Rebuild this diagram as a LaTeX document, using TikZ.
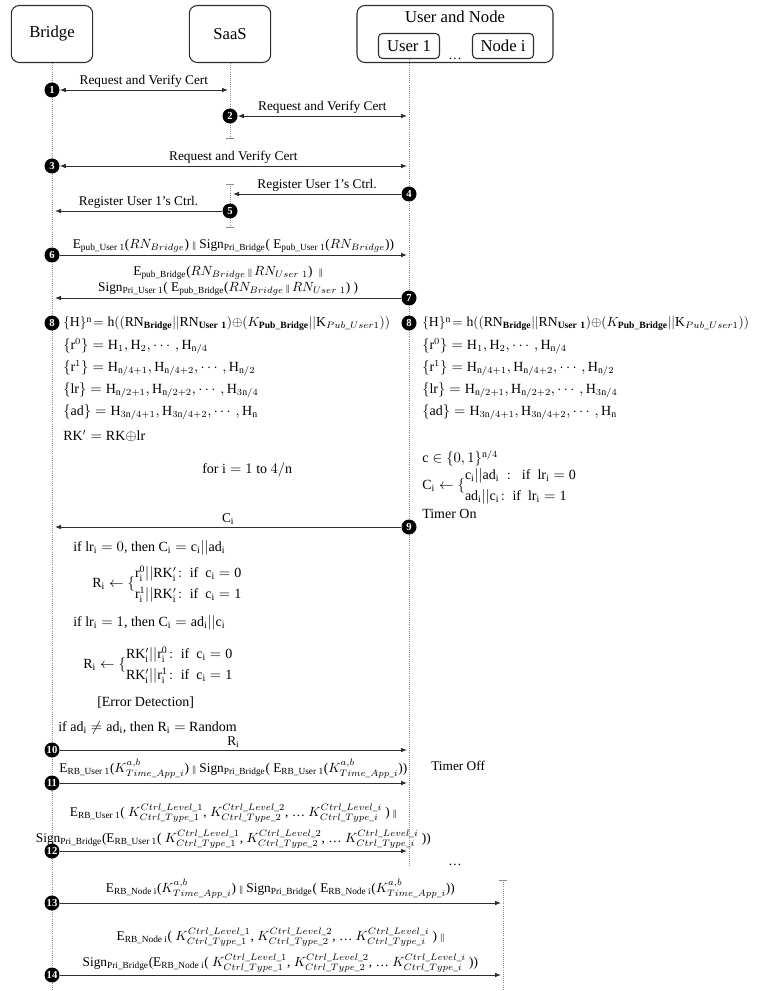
\documentclass[tikz,border=0pt]{standalone}
\usepackage{amsmath,amssymb}
\usepackage{fontspec}
\setmainfont{Liberation Serif}
\usetikzlibrary{arrows.meta}
\definecolor{ink}{RGB}{45,45,45}
\definecolor{lifeg}{RGB}{140,140,140}
\tikzset{
  actor/.style={draw=ink,line width=0.8pt,rounded corners=6pt,minimum height=42.75pt,
    font=\fontsize{12.5}{14}\selectfont},
  inbox/.style={draw=ink,line width=0.8pt,rounded corners=3pt,minimum width=45.75pt,
    minimum height=18.75pt,inner sep=1pt,font=\fontsize{12.5}{14}\selectfont},
  life/.style={lifeg,densely dotted,line width=0.6pt},
  lifebar/.style={lifeg,line width=0.6pt},
  num/.style={circle,fill=black,text=white,inner sep=0pt,minimum size=11.25pt,
    font=\fontsize{8}{8}\selectfont\bfseries},
  msg/.style={draw=ink,line width=0.7pt,-{Latex[length=4.5pt,width=3.5pt]}},
  twoway/.style={msg,{Latex[length=4.5pt,width=3.5pt]}-{Latex[length=4.5pt,width=3.5pt]}},
  lbl/.style={inner sep=1.5pt,font=\fontsize{10}{12}\selectfont},
  eq/.style={anchor=west,inner sep=0pt,font=\fontsize{10.5}{12}\selectfont},
  hash/.style={eq,font=\fontsize{10.3}{12}\selectfont},
}
\newcommand{\tsub}[1]{\textsubscript{#1}}
\newcommand{\pipes}{{\scriptsize ||}}
\newcommand{\kc}[1]{K^{Ctrl\_Level\_#1}_{Ctrl\_Type\_#1}}
\newcommand{\kt}{K^{a,b}_{Time\_App\_i}}
\newcommand{\xo}{{\oplus}}

\begin{document}
\begin{tikzpicture}[x=0.75pt,y=-0.75pt]
  \useasboundingbox (0,0) rectangle (757,991);

  % actors
  \node[actor,minimum width=61pt] (bridge) at (52,34) {Bridge};
  \node[actor,minimum width=61pt] (saas) at (230,34) {SaaS};
  \node[actor,minimum width=147pt] (usrnode) at (455,34) {};
  \node[inner sep=0pt,font=\fontsize{12.5}{14}\selectfont] (usrtitle) at (455,17) {User and Node};
  \node[inbox] (user1) at (409,46) {User 1};
  \node[inbox] (nodei) at (503,46) {Node i};
  \node[inner sep=0pt] (dotsA) at (455,59) {\ldots};

  % lifelines
  \coordinate (bEnd) at (52,991);
  \coordinate (sEnd) at (230,138);
  \coordinate (sTop) at (230,184);
  \coordinate (sBot) at (230,227);
  \coordinate (uEnd) at (409,866);
  \coordinate (nTop) at (503,880);
  \coordinate (nEnd) at (503,991);
  \draw[life] (bridge) -- (bEnd);
  \draw[life] (saas) -- (sEnd);
  \draw[life] (user1) -- (uEnd);
  \draw[life] (sTop) -- (sBot);
  \draw[life] (nTop) -- (nEnd);
  \draw[lifebar] ([xshift=-3pt]sEnd) -- ([xshift=3pt]sEnd);
  \draw[lifebar] ([xshift=-3pt]sTop) -- ([xshift=3pt]sTop);
  \draw[lifebar] ([xshift=-3pt]sBot) -- ([xshift=3pt]sBot);
  \draw[lifebar] ([xshift=-3pt]nTop) -- ([xshift=3pt]nTop);

  % 1-5 certificates and registration
  \node[num] (n1) at (52,90) {1};
  \coordinate (s1) at (228,90);
  \draw[twoway] (n1) -- node[lbl,above]{Request and Verify Cert} (s1);
  \node[num] (n2) at (230,116) {2};
  \coordinate (u2) at (407,116);
  \draw[twoway] (n2) -- node[lbl,above]{Request and Verify Cert} (u2);
  \node[num] (n3) at (52,166) {3};
  \coordinate (u3) at (407,166);
  \draw[twoway] (n3) -- node[lbl,above]{Request and Verify Cert} (u3);
  \node[num] (n4) at (409,194) {4};
  \coordinate (s4) at (233,194);
  \draw[msg] (n4) -- node[lbl,above]{Register User 1's Ctrl.} (s4);
  \node[num] (n5) at (230,211) {5};
  \coordinate (b5) at (55,211);
  \draw[msg] (n5) -- node[lbl,above]{Register User 1's Ctrl.} (b5);

  % 6-7 random numbers
  \node[num] (n6) at (52,255) {6};
  \coordinate (u6) at (407,255);
  \draw[msg] (n6) -- node[lbl,above]{E\tsub{pub\_User 1}($RN_{Bridge}$) \pipes\ Sign\tsub{Pri\_Bridge}( E\tsub{pub\_User 1}($RN_{Bridge}$))} (u6);
  \node[num] (n7) at (409,298) {7};
  \coordinate (b7) at (55,298);
  \draw[msg] (n7) -- node[lbl,above,align=center]{E\tsub{pub\_Bridge}($RN_{Bridge}$\,\pipes\,$RN_{User\ 1}$)\ \ \pipes\\
    Sign\tsub{Pri\_User 1}( E\tsub{pub\_Bridge}($RN_{Bridge}$\,\pipes\,$RN_{User\ 1}$) )} (b7);

  % 8 key material
  \node[num] (n8a) at (52,323) {8};
  \node[num] (n8b) at (409,323) {8};
  \node[hash] (hA) at (63,324) {$\{\mathrm{H}\}^{\mathrm{n}}\!= \mathrm{h}((\mathrm{RN}_{\mathbf{Bridge}}||\mathrm{RN}_{\mathbf{User\ 1}})\xo(K_{\mathbf{Pub\_Bridge}}||\mathrm{K}_{Pub\_User1}))$};
  \node[eq] (rzA) at (63,346) {$\{\mathrm{r}^0\} = \mathrm{H}_1, \mathrm{H}_2, \cdots, \mathrm{H}_{\mathrm{n}/4}$};
  \node[eq] (roA) at (63,368) {$\{\mathrm{r}^1\} = \mathrm{H}_{\mathrm{n}/4+1}, \mathrm{H}_{\mathrm{n}/4+2}, \cdots, \mathrm{H}_{\mathrm{n}/2}$};
  \node[eq] (lrA) at (63,390) {$\{\mathrm{lr}\} = \mathrm{H}_{\mathrm{n}/2+1}, \mathrm{H}_{\mathrm{n}/2+2}, \cdots, \mathrm{H}_{3\mathrm{n}/4}$};
  \node[eq] (adA) at (63,412) {$\{\mathrm{ad}\} = \mathrm{H}_{3\mathrm{n}/4+1}, \mathrm{H}_{3\mathrm{n}/4+2}, \cdots, \mathrm{H}_{\mathrm{n}}$};
  \node[eq] (rk) at (63,436) {$\mathrm{RK}' = \mathrm{RK}\xo\mathrm{lr}$};
  \node[eq] (fori) at (202,470) {for $\mathrm{i} = 1$ to $4/\mathrm{n}$};
  \node[hash] (hB) at (422,324) {$\{\mathrm{H}\}^{\mathrm{n}}\!= \mathrm{h}((\mathrm{RN}_{\mathbf{Bridge}}||\mathrm{RN}_{\mathbf{User\ 1}})\xo(K_{\mathbf{Pub\_Bridge}}||\mathrm{K}_{Pub\_User1}))$};
  \node[eq] (rzB) at (422,346) {$\{\mathrm{r}^0\} = \mathrm{H}_1, \mathrm{H}_2, \cdots, \mathrm{H}_{\mathrm{n}/4}$};
  \node[eq] (roB) at (422,368) {$\{\mathrm{r}^1\} = \mathrm{H}_{\mathrm{n}/4+1}, \mathrm{H}_{\mathrm{n}/4+2}, \cdots, \mathrm{H}_{\mathrm{n}/2}$};
  \node[eq] (lrB) at (422,390) {$\{\mathrm{lr}\} = \mathrm{H}_{\mathrm{n}/2+1}, \mathrm{H}_{\mathrm{n}/2+2}, \cdots, \mathrm{H}_{3\mathrm{n}/4}$};
  \node[eq] (adB) at (422,412) {$\{\mathrm{ad}\} = \mathrm{H}_{3\mathrm{n}/4+1}, \mathrm{H}_{3\mathrm{n}/4+2}, \cdots, \mathrm{H}_{\mathrm{n}}$};
  \node[eq] (cset) at (422,458) {$\mathrm{c} \in \{0,1\}^{\mathrm{n}/4}$};
  \node[eq] (cchoice) at (422,486) {\def\arraystretch{1.3}$\mathrm{C_i} \leftarrow \{\begin{array}{@{}l@{}}\mathrm{c_i||ad_i\ :\ \ if\ \ lr_i = 0}\\ \mathrm{ad_i||c_i\!:\ if\ \ lr_i = 1}\end{array}$};
  \node[eq] (timeron) at (422,514) {Timer On};

  % 9-10 challenge and response
  \node[num] (n9) at (409,527) {9};
  \coordinate (b9) at (55,527);
  \draw[msg] (n9) -- node[lbl,above]{$\mathrm{C_i}$} (b9);
  \node[eq] (ifz) at (73,548) {if $\mathrm{lr_i} = 0$, then $\mathrm{C_i = c_i||ad_i}$};
  \node[eq] (riz) at (92,584) {\def\arraystretch{1.3}$\mathrm{R_i} \leftarrow \{\begin{array}{@{}l@{}}\mathrm{r_i^0||RK'_i\!:\ if\ \ c_i = 0}\\ \mathrm{r_i^1||RK'_i\!:\ if\ \ c_i = 1}\end{array}$};
  \node[eq] (ifo) at (73,623) {if $\mathrm{lr_i} = 1$, then $\mathrm{C_i = ad_i||c_i}$};
  \node[eq] (rio) at (83,665) {\def\arraystretch{1.3}$\mathrm{R_i} \leftarrow \{\begin{array}{@{}l@{}}\mathrm{RK'_i||r_i^0\!:\ if\ \ c_i = 0}\\ \mathrm{RK'_i||r_i^1\!:\ if\ \ c_i = 1}\end{array}$};
  \node[eq] (errdet) at (97,703) {[Error Detection]};
  \node[eq] (adchk) at (58,728) {if $\mathrm{ad_i} \neq \mathrm{ad_i}$, then $\mathrm{R_i} =$ Random};
  \node[num] (n10) at (52,750) {10};
  \coordinate (u10) at (407,750);
  \draw[msg] (n10) -- node[lbl,above]{$\mathrm{R_i}$} (u10);

  % 11-14 keys to user and node
  \node[num] (n11) at (52,783) {11};
  \coordinate (u11) at (407,783);
  \draw[msg] (n11) -- node[lbl,above=2pt]{E\tsub{RB\_User 1}($\kt$) \pipes\ Sign\tsub{Pri\_Bridge}( E\tsub{RB\_User 1}($\kt$))} (u11);
  \node[eq,font=\fontsize{10}{12}\selectfont] (timeroff) at (431,766) {Timer Off};
  \node[num] (n12) at (52,851) {12};
  \coordinate (u12) at (407,851);
  \draw[msg] (n12) -- node[lbl,above,align=center]{E\tsub{RB\_User 1}( $\kc1$, $\kc2$, \ldots\ $\kc{i}$ ) \pipes\\[5pt]
    Sign\tsub{Pri\_Bridge}(E\tsub{RB\_User 1}( $\kc1$, $\kc2$, \ldots\ $\kc{i}$ ))} (u12);
  \node[inner sep=0pt] (dotsB) at (455,865) {\ldots};
  \node[num] (n13) at (52,903) {13};
  \coordinate (d13) at (501,903);
  \draw[msg] (n13) -- node[lbl,above=2pt]{E\tsub{RB\_Node i}($\kt$) \pipes\ Sign\tsub{Pri\_Bridge}( E\tsub{RB\_Node i}($\kt$))} (d13);
  \node[num] (n14) at (52,975) {14};
  \coordinate (d14) at (501,975);
  \draw[msg] (n14) -- node[lbl,above,align=center]{E\tsub{RB\_Node i}( $\kc1$, $\kc2$, \ldots\ $\kc{i}$ ) \pipes\\[5pt]
    Sign\tsub{Pri\_Bridge}(E\tsub{RB\_Node i}( $\kc1$, $\kc2$, \ldots\ $\kc{i}$ ))} (d14);
\end{tikzpicture}
\end{document}
